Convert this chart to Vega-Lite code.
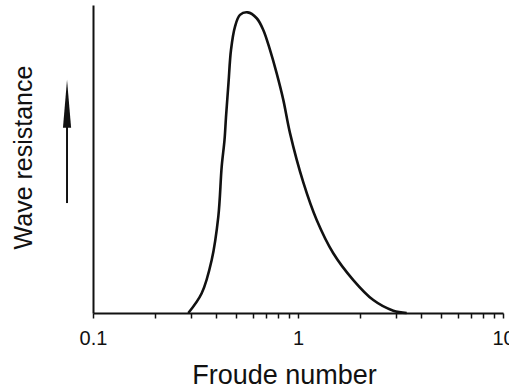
{
  "$schema": "https://vega.github.io/schema/vega-lite/v6.json",
  "width": 410,
  "height": 308,
  "autosize": {"type": "none"},
  "padding": {"left": 93, "top": 5, "right": 6, "bottom": 78},
  "background": "white",
  "config": {"view": {"stroke": null}, "font": "Liberation Sans"},
  "datasets": {
    "curve": [
      {"froude": 0.2917, "resistance": 0},
      {"froude": 0.339, "resistance": 6.4},
      {"froude": 0.3793, "resistance": 17.2},
      {"froude": 0.4086, "resistance": 31.3},
      {"froude": 0.4244, "resistance": 47.5},
      {"froude": 0.4381, "resistance": 56.2},
      {"froude": 0.4454, "resistance": 63.6},
      {"froude": 0.4581, "resistance": 74.7},
      {"froude": 0.4711, "resistance": 85.4},
      {"froude": 0.4929, "resistance": 93.0},
      {"froude": 0.5213, "resistance": 96.8},
      {"froude": 0.5683, "resistance": 97.6},
      {"froude": 0.6288, "resistance": 95.7},
      {"froude": 0.6771, "resistance": 91.9},
      {"froude": 0.7302, "resistance": 85.4},
      {"froude": 0.7872, "resistance": 77.8},
      {"froude": 0.8478, "resistance": 69.2},
      {"froude": 0.9141, "resistance": 58.4},
      {"froude": 1.0614, "resistance": 42.4},
      {"froude": 1.2336, "resistance": 30.2},
      {"froude": 1.4863, "resistance": 19.4},
      {"froude": 1.8612, "resistance": 10.7},
      {"froude": 2.3299, "resistance": 4.2},
      {"froude": 2.9167, "resistance": 0.75},
      {"froude": 3.39, "resistance": 0}
    ],
    "arrow": [
      {"froude": 0.0747, "resistance": 35.7},
      {"froude": 0.0747, "resistance": 69}
    ],
    "head": [
      {"froude": 0.0747, "resistance": 67.9}
    ]
  },
  "layer": [
    {
      "data": {"name": "curve"},
      "mark": {"type": "line", "interpolate": "catmull-rom", "color": "#111", "strokeWidth": 2.6},
      "encoding": {
        "x": {
          "field": "froude",
          "type": "quantitative",
          "scale": {"type": "log", "domain": [0.1, 10]},
          "axis": {
            "values": [0.1, 0.2, 0.3, 0.4, 0.5, 0.6, 0.7, 0.8, 0.9, 1, 2, 3, 4, 5, 6, 7, 8, 9, 10],
            "labelExpr": "datum.value == 0.1 ? '0.1' : datum.value == 1 ? '1' : datum.value == 10 ? '10' : ''",
            "grid": false,
            "domainColor": "#111",
            "domainWidth": 2,
            "tickColor": "#111",
            "tickWidth": 1.5,
            "tickSize": 5,
            "labelFontSize": 20,
            "labelColor": "#111",
            "labelPadding": 20,
            "labelBaseline": "middle",
            "labelFlush": false,
            "labelOverlap": false,
            "labelBound": false,
            "title": "Froude number",
            "titleFontSize": 27,
            "titleFontWeight": "normal",
            "titleColor": "#111",
            "titleAlign": "center",
            "titleBaseline": "middle",
            "titleX": 191,
            "titleY": 62
          }
        },
        "y": {
          "field": "resistance",
          "type": "quantitative",
          "scale": {"domain": [0, 100]},
          "axis": {
            "ticks": false,
            "labels": false,
            "grid": false,
            "domainColor": "#111",
            "domainWidth": 2,
            "title": "Wave resistance",
            "titleFontSize": 25,
            "titleFontWeight": "normal",
            "titleColor": "#111",
            "titleAngle": -90,
            "titleAlign": "center",
            "titleBaseline": "middle",
            "titleX": -70,
            "titleY": 152
          }
        }
      }
    },
    {
      "data": {"name": "arrow"},
      "mark": {"type": "line", "color": "#111", "strokeWidth": 2, "clip": false},
      "encoding": {
        "x": {"field": "froude", "type": "quantitative", "scale": {"type": "log", "domain": [0.1, 10]}},
        "y": {"field": "resistance", "type": "quantitative", "scale": {"domain": [0, 100]}}
      }
    },
    {
      "data": {"name": "head"},
      "mark": {"type": "point", "shape": "M0,-1L0.17,1L-0.17,1Z", "filled": true, "color": "#111", "opacity": 1, "size": 2304, "clip": false},
      "encoding": {
        "x": {"field": "froude", "type": "quantitative", "scale": {"type": "log", "domain": [0.1, 10]}},
        "y": {"field": "resistance", "type": "quantitative", "scale": {"domain": [0, 100]}}
      }
    }
  ]
}
